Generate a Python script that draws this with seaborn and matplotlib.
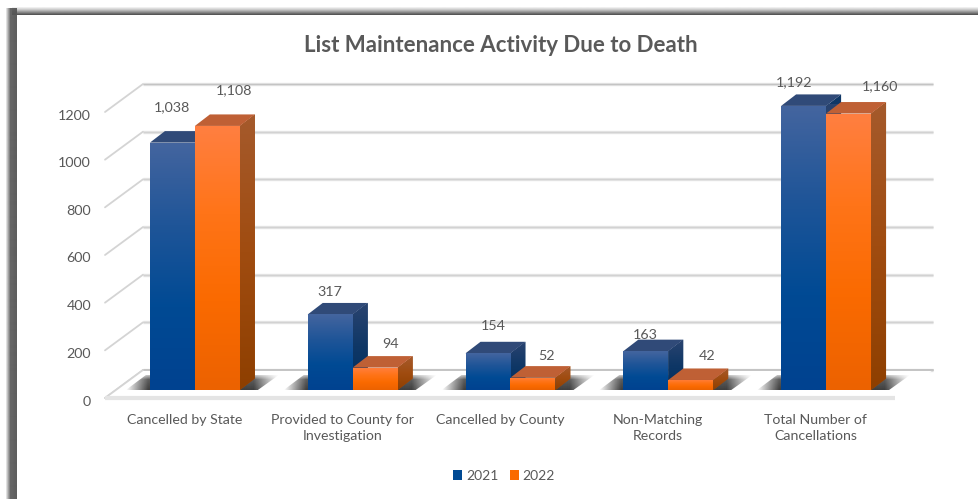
import numpy as np
import pandas as pd
import matplotlib
matplotlib.use("Agg")
import matplotlib.pyplot as plt
from matplotlib.colors import LinearSegmentedColormap, to_rgb
from matplotlib.patches import Polygon
from matplotlib.transforms import ScaledTranslation
import seaborn as sns

# ---------------------------------------------------------------------
# DATA
# ---------------------------------------------------------------------
categories = ["Cancelled by State", "Provided to County for\nInvestigation",
              "Cancelled by County", "Non-Matching\nRecords",
              "Total Number of\nCancellations"]
values_2021 = [1038, 317, 154, 163, 1192]
values_2022 = [1108, 94, 52, 42, 1160]
y_ticks = [0, 200, 400, 600, 800, 1000, 1200]
title = "List Maintenance Activity Due to Death"

df = pd.DataFrame({
    "category": categories * 2,
    "count": values_2021 + values_2022,
    "year": ["2021"] * 5 + ["2022"] * 5,
})

# ---------------------------------------------------------------------
# STYLE
# ---------------------------------------------------------------------
sns.set_theme(style="white")
plt.rcParams["font.family"] = ["Lato", "DejaVu Sans"]
TEXT = "#595959"
W, H = 979, 499
DEPTH_X, DEPTH_Y = 15, 11.5   # bar depth, pixels

FRONT = [["#44659F", "#1F5598", "#004A94", "#004290"],
         ["#FF7F41", "#FF7418", "#FA6A00", "#EC6200"]]
SIDE = [["#2B4470", "#0F3766", "#002F5F"], ["#A55A2C", "#A04C10", "#8E3F00"]]
TOP = ["#304A78", "#BF6035"]
# data label shift from the top of the bar, pixels (right, up)
label_shift = [[(0, 35), (0, 22), (5, 27), (-1, 16), (-10, 24)],
               [(17, 36), (15, 24), (13, 22), (16, 24), (31, 27)]]

fig = plt.figure(figsize=(W / 100, H / 100), dpi=100, facecolor="white")

# pixel overlay for frame and walls
bg = fig.add_axes([0, 0, 1, 1], zorder=0)
bg.set_xlim(0, W)
bg.set_ylim(H, 0)
bg.axis("off")
bg.set_autoscale_on(False)

ax = fig.add_axes([116 / W, (H - 390) / H, 789 / W, 286 / H], zorder=1)
ax.patch.set_alpha(0)

sns.barplot(data=df, x="category", y="count", hue="year",
            palette=["#004A94", "#FA6A00"], width=0.57, gap=0,
            saturation=1, linewidth=0, ax=ax)
ax.set_xlim(-0.5, 4.5)
ax.set_ylim(0, 1200)
ax.set_autoscale_on(False)
ax.set_xlabel("")
ax.set_ylabel("")
sns.despine(ax=ax, left=True, bottom=True)


def to_px(x, y):
    return bg.transData.inverted().transform(ax.transData.transform((x, y)))


def gradient(target, stops, box, clip, zorder):
    cmap = LinearSegmentedColormap.from_list("g", stops)
    ramp = np.linspace(0, 1, 256)[:, None]
    im = target.imshow(ramp, cmap=cmap, aspect="auto", extent=box,
                       origin="upper", zorder=zorder, vmin=0, vmax=1,
                       interpolation="bilinear")
    im.set_transform(bg.transData)
    im.set_clip_path(clip)
    return im


# ---------------------------------------------------------------------
# WALLS AND GRID, taken from the y scale
# ---------------------------------------------------------------------
for t in y_ticks:
    _, yp = to_px(0, t)
    back_y, front_y = yp - 20, yp + 8
    c = "#C4C4C4" if t in (0, 1200) else "#D2D2D2"
    bg.plot([143, 933], [back_y, back_y], color="#E6E6E6", lw=2.4, zorder=1,
            solid_capstyle="butt")
    bg.plot([143, 933], [back_y, back_y], color=c, lw=1.0, zorder=1.1,
            solid_capstyle="butt")
    bg.plot([105, 143], [front_y, back_y], color="#D4D4D4", lw=1.3, zorder=1)
_, y0 = to_px(0, 0)
bg.add_patch(Polygon([(105, y0 + 8), (143, y0 - 20), (933, y0 - 20), (895, y0 + 8)],
                     facecolor="white", edgecolor="none", zorder=1.5))
bg.plot([143, 933], [y0 - 20, y0 - 20], color="#C4C4C4", lw=1.4, zorder=1.6)
bg.plot([105, 143], [y0 + 8, y0 - 20], color="#D4D4D4", lw=1.3, zorder=1.6)
bg.plot([105, 895], [y0 + 8, y0 + 8], color="#E4E4E4", lw=3, zorder=1.6,
        solid_capstyle="butt")

# ---------------------------------------------------------------------
# 3D FACES, GRADIENTS, SHADOWS
# ---------------------------------------------------------------------
for s, container in enumerate(ax.containers):
    for j, bar in enumerate(container):
        x0, x1 = bar.get_x(), bar.get_x() + bar.get_width()
        h = bar.get_height()
        (xl, yt), (xr, yb) = to_px(x0, h), to_px(x1, 0)

        # floor shadow, one per group
        if s == 1:
            left = to_px(bar.get_x() - bar.get_width(), 0)[0]
            sh = Polygon([(left - 24, yb), (left - 4, yb - 15), (xr + 39, yb - 15),
                          (xr + 18, yb)], transform=bg.transData,
                         facecolor="none", edgecolor="none")
            bg.add_patch(sh)
            alpha = np.interp(np.linspace(left - 24, xr + 39, 300),
                              [left - 24, left - 2, xr + 14, xr + 39],
                              [0, 0.9, 0.9, 0])
            rise = np.interp(np.arange(15), [0, 4, 14], [0.35, 0.85, 1])
            rgba = np.zeros((15, 300, 4))
            rgba[..., 3] = np.outer(rise, alpha)
            rgba[..., :3] = to_rgb("#2A2A2A")
            im = bg.imshow(rgba, aspect="auto", zorder=2, interpolation="bilinear",
                           origin="upper", extent=(left - 24, xr + 39, yb, yb - 15))
            im.set_clip_path(sh)

        base_z = 2 + s * 0.5
        side = Polygon([(xr, yt), (xr + DEPTH_X, yt - DEPTH_Y),
                        (xr + DEPTH_X, yb - DEPTH_Y), (xr, yb)],
                       transform=bg.transData, facecolor=SIDE[s][1],
                       edgecolor="none", clip_on=False, zorder=base_z)
        ax.add_patch(side)
        gradient(ax, SIDE[s], (xr, xr + DEPTH_X, yb, yt - DEPTH_Y), side, base_z + 0.01)
        ax.add_patch(Polygon([(xl, yt), (xl + DEPTH_X, yt - DEPTH_Y),
                              (xr + DEPTH_X, yt - DEPTH_Y), (xr, yt)],
                             transform=bg.transData, facecolor=TOP[s],
                             edgecolor="none", clip_on=False, zorder=base_z + 0.02))
        bar.set_zorder(4)
        gradient(ax, FRONT[s], (xl, xr, yb, yt), bar, 4.1)

        dx, dy = label_shift[s][j]
        ax.annotate(f"{int(h):,}", xy=(bar.get_x() + bar.get_width() / 2, h),
                    xytext=(dx * 0.72, dy * 0.72), textcoords="offset points",
                    ha="center", va="center", fontsize=10.3, color=TEXT,
                    annotation_clip=False, zorder=6)

# ---------------------------------------------------------------------
# TICKS, TITLE, LEGEND
# ---------------------------------------------------------------------
ax.set_yticks(y_ticks)
ax.tick_params(axis="y", length=0, pad=18, labelsize=10.3, labelcolor=TEXT)
ax.tick_params(axis="x", length=0, pad=17, labelsize=10.2, labelcolor=TEXT)
for lab in ax.get_yticklabels():
    lab.set_transform(lab.get_transform() +
                      ScaledTranslation(0, -10.5 / 100, fig.dpi_scale_trans))
for lab in ax.get_xticklabels():
    lab.set_linespacing(1.45)
    lab.set_transform(lab.get_transform() +
                      ScaledTranslation(-10.5 / 100, 0, fig.dpi_scale_trans))

fig.text(501 / W, 1 - 45 / H, title, ha="center", va="center",
         fontsize=16, fontweight="bold", color=TEXT)

handles, labels = ax.get_legend_handles_labels()
ax.legend(handles, labels, ncol=2, frameon=False, loc="center",
          bbox_to_anchor=(504 / W, 1 - 476 / H), bbox_transform=fig.transFigure,
          fontsize=10, labelcolor=TEXT, handlelength=0.65, handleheight=0.65,
          handletextpad=0.3, columnspacing=0.8, borderpad=0)

# ---------------------------------------------------------------------
# PICTURE FRAME
# ---------------------------------------------------------------------
grey = "#555555"
left_band = np.zeros((1, 12, 4))
left_band[..., :3] = to_rgb(grey)
left_band[0, :, 3] = np.interp(np.arange(12), [0, 3, 5, 11], [0, 0.55, 0.9, 0.95])
bg.imshow(left_band, extent=(5, 17, H, 8), aspect="auto", zorder=5,
          interpolation="bilinear")
top_band = np.zeros((8, 1, 4))
top_band[..., :3] = to_rgb(grey)
top_band[:, 0, 3] = np.interp(np.arange(8), [0, 3, 7], [0, 0.35, 1])
bg.imshow(top_band, extent=(12, W, 15, 6), aspect="auto", zorder=5,
          interpolation="bilinear")

bg.set_xlim(0, W)
bg.set_ylim(H, 0)
fig.savefig("out.png", dpi=100)
